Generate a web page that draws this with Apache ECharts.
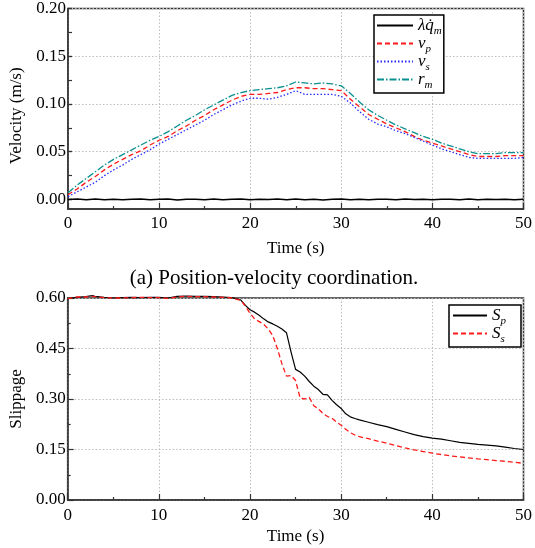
<!DOCTYPE html>
<html>
<head>
<meta charset="utf-8">
<script src="https://cdn.jsdelivr.net/npm/echarts@6/dist/echarts.min.js"></script>
<style>
  html, body { margin: 0; padding: 0; background: #fff; }
  #main { width: 535px; height: 548px; }
</style>
</head>
<body>
<div id="main"></div>
<script>
// (a) position-velocity coordination, time in s, velocity in m/s
var velTime = [0, 1, 2, 3, 4, 5, 6, 7, 8, 9, 10, 11, 12, 13, 14, 15, 16, 17, 18, 19,
  20, 21, 22, 23, 24, 25, 26, 27, 28, 29, 30, 31, 32, 33, 34, 35, 36, 37, 38, 39,
  40, 41, 42, 43, 44, 45, 46, 47, 48, 49, 50]
var velLq = [0, 0.0004, -0.0003, 0.0005, -0.0002, 0.0003, -0.0004, 0.0002, 0.0005, -0.0003,
  0.0001, 0.0004, -0.0005, 0.0003, 0.0002, -0.0002, 0.0004, -0.0003, 0.0001, 0.0005,
  -0.0004, 0.0002, -0.0001, 0.0004, -0.0003, 0.0006, -0.0002, 0.0003, -0.0005, 0.0002,
  0.0004, -0.0003, 0.0001, -0.0004, 0.0003, 0.0002, -0.0002, 0.0005, -0.0001, 0.0003,
  -0.0004, 0.0002, 0.0001, -0.0003, 0.0004, -0.0002, 0.0003, -0.0001, 0.0002, -0.0003, 0.0001]
var velVp = [0.005, 0.011, 0.018, 0.024, 0.031, 0.037, 0.042, 0.047, 0.051, 0.057,
  0.062, 0.066, 0.072, 0.077, 0.083, 0.088, 0.094, 0.099, 0.104, 0.108,
  0.110, 0.110, 0.111, 0.112, 0.115, 0.117, 0.117, 0.116, 0.116, 0.115,
  0.114, 0.105, 0.097, 0.089, 0.084, 0.079, 0.075, 0.071, 0.066, 0.062,
  0.059, 0.056, 0.053, 0.050, 0.047, 0.045, 0.045, 0.045, 0.046, 0.046, 0.046]
var velVs = [0.003, 0.008, 0.013, 0.018, 0.025, 0.031, 0.036, 0.042, 0.047, 0.052,
  0.058, 0.063, 0.068, 0.073, 0.078, 0.083, 0.089, 0.094, 0.099, 0.103,
  0.106, 0.106, 0.105, 0.107, 0.110, 0.114, 0.110, 0.110, 0.110, 0.110,
  0.108, 0.101, 0.092, 0.084, 0.079, 0.076, 0.072, 0.069, 0.065, 0.061,
  0.057, 0.053, 0.050, 0.047, 0.044, 0.043, 0.043, 0.043, 0.043, 0.043, 0.044]
var velRm = [0.007, 0.015, 0.022, 0.029, 0.036, 0.042, 0.047, 0.052, 0.057, 0.062,
  0.066, 0.071, 0.077, 0.083, 0.088, 0.094, 0.099, 0.104, 0.109, 0.112,
  0.114, 0.115, 0.116, 0.117, 0.119, 0.123, 0.122, 0.121, 0.122, 0.121,
  0.119, 0.111, 0.102, 0.094, 0.088, 0.083, 0.078, 0.074, 0.070, 0.066,
  0.063, 0.059, 0.056, 0.053, 0.050, 0.048, 0.048, 0.048, 0.049, 0.049, 0.049]
var velTicks = [0, 0.025, 0.05, 0.075, 0.1, 0.125, 0.15, 0.175, 0.2]
var velLabels = [0, 0.05, 0.1, 0.15, 0.2]

// (b) slippage
var slipTime = [0, 1, 2, 2.7, 3, 4, 5, 6, 7, 8, 9, 10, 11, 12, 13, 14, 15, 16, 17, 18, 19,
  19.5, 20, 20.5, 21, 21.5, 22, 22.5, 23, 23.5, 24, 24.5, 25, 25.5, 26, 26.5, 27, 27.5,
  28, 28.5, 29, 29.5, 30, 30.5, 31, 31.5, 32,
  33, 34, 35, 36, 37, 38, 39, 40, 41, 42, 43, 44, 45, 46, 47, 48, 49, 50]
var slipSp = [0.598, 0.602, 0.604, 0.607, 0.605, 0.602, 0.600, 0.601, 0.602, 0.601, 0.602,
  0.602, 0.600, 0.605, 0.606, 0.605, 0.605, 0.604, 0.603, 0.601, 0.594,
  0.578, 0.565, 0.558, 0.549, 0.538, 0.529, 0.523, 0.516, 0.508, 0.497, 0.440, 0.388, 0.380,
  0.368, 0.352, 0.338, 0.328, 0.314, 0.312, 0.296, 0.283, 0.272, 0.256, 0.247, 0.242, 0.238,
  0.231, 0.224, 0.218, 0.210, 0.202, 0.194, 0.188, 0.184, 0.181, 0.176, 0.171, 0.168,
  0.165, 0.163, 0.161, 0.157, 0.153, 0.150]
var slipSs = [0.598, 0.603, 0.603, 0.605, 0.604, 0.601, 0.600, 0.600, 0.601, 0.602, 0.601,
  0.601, 0.599, 0.603, 0.605, 0.604, 0.604, 0.603, 0.602, 0.600, 0.593,
  0.575, 0.555, 0.538, 0.530, 0.522, 0.508, 0.488, 0.450, 0.405, 0.368, 0.370, 0.355, 0.303,
  0.300, 0.305, 0.280, 0.271, 0.257, 0.248, 0.243, 0.231, 0.222, 0.210, 0.200, 0.193, 0.188,
  0.182, 0.175, 0.169, 0.162, 0.155, 0.149, 0.144, 0.139, 0.135, 0.131, 0.128, 0.125,
  0.122, 0.120, 0.117, 0.115, 0.112, 0.109]

var FONT = '"Liberation Serif", serif'
var AXIS = '#333'
var GRIDLINE = { show: true, lineStyle: { color: '#bdbdbd', type: [1.5, 2], width: 1 } }

function pairs (t, v) {
  return t.map(function (x, i) { return [x, v[i]] })
}

// legend labels with italic symbols and subscripts
var legendNames = {
  lq: '{it|λq̇}{sub|m}',
  vp: '{it|v}{sub|p}',
  vs: '{it|v}{sub|s}',
  rm: '{it|r}{sub|m}',
  Sp: '{it|S}{sub|p}',
  Ss: '{it|S}{sub|s}'
}
var legendText = {
  color: '#000',
  rich: {
    it: { fontFamily: FONT, fontSize: 17, fontStyle: 'italic', color: '#000', lineHeight: 17 },
    sub: { fontFamily: FONT, fontSize: 11, fontStyle: 'italic', color: '#000', verticalAlign: 'bottom', padding: [0, 0, -3, 0] }
  }
}

function timeAxis (gi, labelMargin, nameGap) {
  return {
    gridIndex: gi, type: 'value', min: 0, max: 50, interval: 10,
    name: 'Time (s)', nameLocation: 'middle', nameGap: nameGap,
    nameTextStyle: { fontFamily: FONT, fontSize: 17, color: '#000' },
    axisLine: { show: true, onZero: false, lineStyle: { color: AXIS, width: 1.5 } },
    axisTick: { show: true, inside: true, length: 6, lineStyle: { color: AXIS, width: 1.2 } },
    minorTick: { show: true, splitNumber: 2, length: 3, lineStyle: { color: AXIS, width: 1.2 } },
    axisLabel: { fontFamily: FONT, fontSize: 17, color: '#000', margin: labelMargin },
    splitLine: GRIDLINE
  }
}

function legendBox (names, left, top, padding, itemWidth) {
  return {
    orient: 'vertical', left: left, top: top,
    data: names,
    formatter: function (n) { return legendNames[n] },
    backgroundColor: '#fff', borderColor: '#000', borderWidth: 1.5, borderRadius: 0,
    padding: padding, itemWidth: itemWidth, itemHeight: 12, itemGap: -2,
    itemStyle: { opacity: 0 },
    textStyle: legendText
  }
}

var option = {
  animation: false,
  backgroundColor: '#fff',
  grid: [
    { left: 68, right: 4, top: 7, height: 202, show: true, borderColor: AXIS, borderWidth: 1.5 },
    { left: 64, right: 4, top: 298, height: 202, show: true, borderColor: AXIS, borderWidth: 1.5 }
  ],
  xAxis: [timeAxis(0, 6, 31), timeAxis(1, 7, 28)],
  yAxis: [
    {
      gridIndex: 0, type: 'value', min: -0.01, max: 0.2, position: 'left',
      name: 'Velocity (m/s)', nameLocation: 'middle', nameGap: 38,
      nameTextStyle: { fontFamily: FONT, fontSize: 17, color: '#000', padding: [0, 14, 0, 0] },
      axisLine: { show: true, onZero: false, lineStyle: { color: AXIS, width: 1.5 } },
      axisTick: { show: true, inside: true, length: 4, customValues: velLabels, lineStyle: { color: AXIS, width: 1.2 } },
      axisLabel: {
        fontFamily: FONT, fontSize: 17, color: '#000', margin: 2, customValues: velLabels,
        formatter: function (v) { return v.toFixed(2) }
      },
      splitLine: GRIDLINE
    },
    {
      gridIndex: 1, type: 'value', min: 0, max: 0.6, interval: 0.15,
      name: 'Slippage', nameLocation: 'middle', nameGap: 38,
      nameTextStyle: { fontFamily: FONT, fontSize: 17, color: '#000' },
      axisLine: { show: true, onZero: false, lineStyle: { color: AXIS, width: 1.5 } },
      axisTick: { show: true, inside: true, length: 6, lineStyle: { color: AXIS, width: 1.2 } },
      minorTick: { show: true, splitNumber: 2, length: 3, lineStyle: { color: AXIS, width: 1.2 } },
      axisLabel: {
        fontFamily: FONT, fontSize: 17, color: '#000', margin: 2,
        formatter: function (v) { return v.toFixed(2) }
      },
      splitLine: GRIDLINE
    },
    {
      // tick-only axis for the 0.025 steps of the velocity plot
      gridIndex: 0, type: 'value', min: -0.01, max: 0.2, position: 'left',
      axisLine: { show: false },
      axisTick: { show: true, inside: true, length: 4, customValues: velTicks, lineStyle: { color: AXIS, width: 1.2 } },
      axisLabel: { show: false },
      splitLine: { show: false }
    }
  ],
  legend: [
    legendBox(['lq', 'vp', 'vs', 'rm'], 374, 15, [2, 2, 2, 2], 36),
    legendBox(['Sp', 'Ss'], 449, 305, [2, 15, 2, 3], 34)
  ],
  graphic: [
    {
      type: 'text', x: 274, y: 278,
      style: {
        text: '(a) Position-velocity coordination.',
        font: '21px "Liberation Serif", serif',
        fill: '#000', align: 'center', verticalAlign: 'middle'
      }
    }
  ],
  series: [
    {
      name: 'lq', type: 'line', xAxisIndex: 0, yAxisIndex: 0, symbol: 'none',
      data: pairs(velTime, velLq), color: '#000',
      lineStyle: { color: '#000', width: 1.5 }
    },
    {
      name: 'vp', type: 'line', xAxisIndex: 0, yAxisIndex: 0, symbol: 'none',
      data: pairs(velTime, velVp), color: '#ff1a1a',
      lineStyle: { color: '#ff1a1a', width: 1.3, type: [5, 3] }
    },
    {
      name: 'vs', type: 'line', xAxisIndex: 0, yAxisIndex: 0, symbol: 'none',
      data: pairs(velTime, velVs), color: '#2a2aff',
      lineStyle: { color: '#2a2aff', width: 1.3, type: [1.5, 2] }
    },
    {
      name: 'rm', type: 'line', xAxisIndex: 0, yAxisIndex: 0, symbol: 'none',
      data: pairs(velTime, velRm), color: '#0a9090',
      lineStyle: { color: '#0a9090', width: 1.3, type: [7, 2, 1.5, 2] }
    },
    {
      name: 'Sp', type: 'line', xAxisIndex: 1, yAxisIndex: 1, symbol: 'none', clip: false,
      data: pairs(slipTime, slipSp), color: '#000',
      lineStyle: { color: '#000', width: 1.2 }
    },
    {
      name: 'Ss', type: 'line', xAxisIndex: 1, yAxisIndex: 1, symbol: 'none', clip: false,
      data: pairs(slipTime, slipSs), color: '#ff1a1a',
      lineStyle: { color: '#ff1a1a', width: 1.3, type: [5, 3] }
    }
  ]
}

var myChart = echarts.init(document.getElementById('main'))
myChart.setOption(option)
</script>
</body>
</html>
